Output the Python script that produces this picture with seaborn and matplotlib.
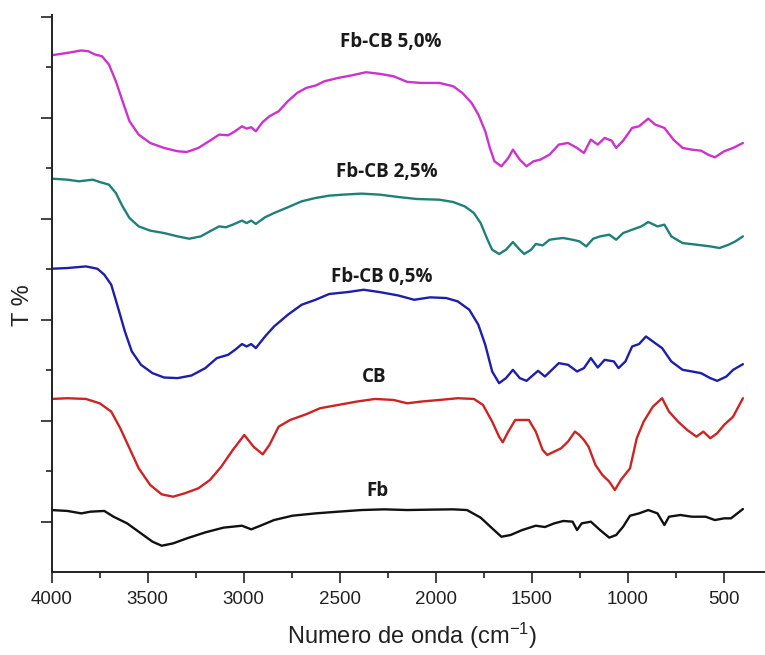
import matplotlib
matplotlib.use("Agg")
import matplotlib.pyplot as plt
from matplotlib.ticker import MultipleLocator, NullFormatter
import numpy as np
import pandas as pd
import seaborn as sns

# FTIR spectra (wavenumber in cm-1, transmittance in offset units)
fb_cb50_wn = [4000, 3918, 3846, 3810, 3774, 3738, 3702, 3666, 3631, 3595, 3547, 3487, 3415, 3344,
              3296, 3236, 3176, 3128, 3081, 3045, 3009, 2985, 2961, 2937, 2901, 2866, 2818, 2770,
              2722, 2674, 2626, 2579, 2507, 2435, 2363, 2292, 2220, 2148, 2076, 1981, 1909, 1861,
              1813, 1778, 1742, 1718, 1694, 1658, 1622, 1598, 1562, 1527, 1491, 1455, 1407, 1359,
              1311, 1264, 1228, 1192, 1156, 1120, 1084, 1060, 1024, 977, 941, 893, 857, 809, 762,
              714, 666, 618, 582, 546, 498, 451, 400]
fb_cb50_t = [51.17, 51.40, 51.64, 51.57, 51.24, 51.07, 50.25, 48.60, 46.62, 44.64, 43.32, 42.49,
             42.00, 41.67, 41.60, 42.00, 42.72, 43.32, 43.25, 43.65, 44.14, 43.91, 44.05, 43.65,
             44.57, 45.13, 45.63, 46.62, 47.44, 47.94, 48.17, 48.60, 48.93, 49.19, 49.49, 49.33,
             49.09, 48.53, 48.43, 48.43, 48.10, 47.44, 46.45, 45.30, 43.65, 42.00, 40.68, 40.18,
             41.01, 41.83, 40.84, 40.18, 40.68, 40.84, 41.34, 42.33, 42.49, 42.00, 41.50, 42.82,
             42.33, 42.99, 42.72, 42.00, 42.72, 43.98, 44.14, 44.90, 44.31, 43.98, 42.82, 42.00,
             41.83, 41.73, 41.34, 41.07, 41.67, 42.00, 42.49]

fb_cb25_wn = [4000, 3918, 3858, 3786, 3750, 3702, 3666, 3631, 3595, 3547, 3487, 3415, 3344, 3284,
              3224, 3176, 3128, 3093, 3057, 3009, 2985, 2961, 2937, 2889, 2842, 2770, 2698, 2626,
              2555, 2483, 2387, 2292, 2196, 2100, 1981, 1909, 1849, 1801, 1766, 1730, 1706, 1670,
              1634, 1598, 1562, 1539, 1503, 1479, 1443, 1407, 1371, 1335, 1287, 1252, 1216, 1180,
              1144, 1096, 1060, 1024, 977, 929, 893, 845, 809, 773, 714, 642, 570, 522, 474, 439, 400]
fb_cb25_t = [38.96, 38.86, 38.70, 38.86, 38.63, 38.37, 37.54, 36.22, 35.07, 34.24, 33.82, 33.58,
             33.25, 33.02, 33.25, 33.75, 34.24, 34.15, 34.41, 34.81, 34.57, 34.81, 34.48, 35.14,
             35.56, 36.13, 36.72, 37.05, 37.28, 37.38, 37.48, 37.38, 37.15, 36.95, 36.88, 36.65,
             36.22, 35.56, 34.57, 32.92, 31.93, 31.51, 31.93, 32.69, 31.93, 31.51, 31.93, 32.50,
             32.36, 32.92, 33.02, 33.09, 32.92, 32.76, 32.26, 33.02, 33.25, 33.42, 32.92, 33.58,
             33.91, 34.24, 34.67, 34.24, 34.41, 33.25, 32.59, 32.43, 32.26, 32.10, 32.43, 32.76,
             33.25]

fb_cb05_wn = [4000, 3918, 3822, 3762, 3726, 3690, 3654, 3619, 3583, 3535, 3475, 3415, 3344, 3272,
              3200, 3140, 3081, 3045, 3009, 2985, 2961, 2937, 2889, 2842, 2770, 2698, 2626, 2555,
              2459, 2375, 2292, 2196, 2112, 2029, 1945, 1885, 1825, 1778, 1742, 1706, 1670, 1634,
              1598, 1562, 1527, 1491, 1467, 1431, 1395, 1359, 1311, 1264, 1228, 1192, 1156, 1120,
              1072, 1048, 1012, 977, 941, 905, 857, 821, 773, 714, 666, 618, 570, 534, 486, 451, 400]
fb_cb05_t = [30.05, 30.12, 30.28, 30.05, 29.46, 28.47, 26.16, 23.85, 21.87, 20.55, 19.72, 19.29,
             19.23, 19.49, 20.22, 21.21, 21.54, 22.03, 22.60, 22.36, 22.60, 22.20, 23.35, 24.34,
             25.50, 26.49, 26.98, 27.55, 27.74, 27.97, 27.74, 27.41, 26.98, 27.22, 27.15, 26.82,
             25.99, 24.51, 22.53, 19.89, 18.73, 19.23, 20.05, 19.23, 18.96, 19.56, 19.95, 19.39,
             20.05, 20.71, 20.55, 19.89, 20.22, 21.21, 20.28, 21.04, 20.88, 20.22, 20.88, 22.36,
             22.60, 23.35, 22.69, 22.20, 20.88, 20.05, 19.89, 19.72, 19.23, 18.96, 19.39, 20.05,
             20.61]

cb_wn = [4000, 3918, 3822, 3750, 3690, 3643, 3595, 3547, 3487, 3427, 3368, 3308, 3236, 3176,
         3117, 3057, 2997, 2949, 2901, 2866, 2818, 2758, 2674, 2603, 2507, 2411, 2316, 2220, 2148,
         2076, 1981, 1885, 1801, 1754, 1706, 1670, 1651, 1622, 1586, 1515, 1479, 1443, 1419, 1383,
         1347, 1311, 1275, 1252, 1228, 1204, 1168, 1132, 1096, 1067, 1036, 988, 953, 917, 869,
         821, 785, 738, 690, 642, 606, 570, 534, 498, 451, 400]
cb_t = [17.17, 17.24, 17.17, 16.74, 15.92, 14.27, 12.29, 10.31, 8.66, 7.73, 7.50, 7.83, 8.33,
        9.15, 10.47, 12.12, 13.61, 12.45, 11.69, 12.62, 14.43, 15.09, 15.66, 16.25, 16.58, 16.91,
        17.17, 17.07, 16.74, 16.91, 17.07, 17.24, 17.17, 16.58, 14.93, 13.44, 12.88, 13.94, 15.09,
        15.09, 13.94, 12.12, 11.63, 11.96, 12.29, 12.95, 13.94, 13.61, 13.11, 12.45, 10.64, 9.65,
        8.99, 8.16, 9.15, 10.31, 13.28, 14.93, 16.41, 17.24, 15.92, 14.93, 14.10, 13.44, 13.94,
        13.28, 13.78, 14.60, 15.42, 17.24]

fb_wn = [4000, 3918, 3846, 3798, 3726, 3678, 3607, 3535, 3475, 3427, 3368, 3296, 3200, 3105,
         3009, 2961, 2913, 2842, 2746, 2626, 2507, 2387, 2268, 2148, 2029, 1909, 1837, 1766, 1706,
         1658, 1610, 1550, 1479, 1431, 1383, 1335, 1287, 1264, 1240, 1192, 1144, 1096, 1060, 1024,
         988, 941, 893, 845, 809, 785, 726, 666, 594, 546, 498, 462, 400]
fb_t = [6.18, 6.09, 5.85, 6.02, 6.09, 5.52, 4.86, 3.87, 3.05, 2.65, 2.88, 3.38, 3.97, 4.44, 4.63,
        4.27, 4.63, 5.19, 5.62, 5.85, 6.02, 6.18, 6.25, 6.18, 6.22, 6.25, 6.18, 5.43, 4.37, 3.54,
        3.71, 4.20, 4.63, 4.50, 4.86, 5.10, 5.03, 4.20, 4.86, 5.03, 4.20, 3.45, 3.71, 4.53, 5.62,
        5.85, 6.18, 5.85, 4.70, 5.52, 5.69, 5.52, 5.52, 5.19, 5.36, 5.36, 6.28]

samples = ["Fb-CB 5,0%", "Fb-CB 2,5%", "Fb-CB 0,5%", "CB", "Fb"]
wavenumbers = [fb_cb50_wn, fb_cb25_wn, fb_cb05_wn, cb_wn, fb_wn]
transmittance = [fb_cb50_t, fb_cb25_t, fb_cb05_t, cb_t, fb_t]
colors = ["#CC33CC", "#1F8079", "#1E1EAA", "#CC2424", "#111111"]

# label anchor positions (wavenumber, T)
label_wn = [2233, 2254, 2280, 2320, 2305]
label_t = [52.5, 39.6, 29.2, 19.3, 8.1]

df = pd.concat(
    [pd.DataFrame({"wavenumber": w, "T": t, "sample": s})
     for s, w, t in zip(samples, wavenumbers, transmittance)],
    ignore_index=True,
)

sns.set_style("ticks")
plt.rcParams["font.family"] = ["Liberation Sans", "DejaVu Sans"]
plt.rcParams["mathtext.fontset"] = "custom"
plt.rcParams["mathtext.rm"] = "Liberation Sans"
plt.rcParams["mathtext.it"] = "Liberation Sans:italic"

fig = plt.figure(figsize=(7.65, 6.55), dpi=100)
ax = fig.add_axes([0.0676, 0.1267, 0.9324, 0.8504])

sns.lineplot(data=df, x="wavenumber", y="T", hue="sample", hue_order=samples,
             palette=dict(zip(samples, colors)), estimator=None, sort=True,
             linewidth=1.7, legend=False, ax=ax)

ax.set_xlim(4000, 285)
ax.set_ylim(0.05, 55.15)

ax.xaxis.set_major_locator(MultipleLocator(500))
ax.xaxis.set_minor_locator(MultipleLocator(250))
ax.yaxis.set_major_locator(MultipleLocator(10, offset=5))
ax.yaxis.set_minor_locator(MultipleLocator(10))
ax.yaxis.set_major_formatter(NullFormatter())

ax.tick_params(axis="both", which="major", direction="out", length=8, width=1.2,
               color="#222222")
ax.tick_params(axis="both", which="minor", direction="out", length=4.5, width=1.2,
               color="#222222")
ax.tick_params(axis="x", which="major", labelsize=13.5, pad=6, labelcolor="#222222")

for side in ("top", "right"):
    ax.spines[side].set_visible(False)
for side in ("left", "bottom"):
    ax.spines[side].set_linewidth(1.4)
    ax.spines[side].set_color("#222222")

ax.set_xlabel("")
ax.set_ylabel("")
fig.text(412 / 765, 1 - 636 / 655, "Numero de onda (cm$^{-1}$)", ha="center", va="center",
         fontsize=17, color="#222222")
fig.text(23 / 765, 1 - 305 / 655, "T %", ha="center", va="center", rotation=90,
         fontsize=17, color="#222222")

for s, xw, yt in zip(samples, label_wn, label_t):
    ax.text(xw, yt, s, ha="center", va="center", fontsize=13.5, fontweight="bold",
            family=["Open Sans", "DejaVu Sans"], color="#1a1a1a")

fig.savefig("out.png", dpi=100)
